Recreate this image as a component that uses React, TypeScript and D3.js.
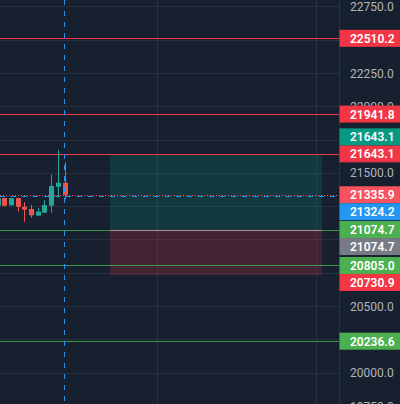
import React from "react";
import * as d3 from "d3";

// ---- data ----
const barIndex = [0, 1, 2, 3, 4, 5, 6, 7, 8, 9, 10];
const opens = [21253, 21311, 21257, 21311, 21246, 21229, 21179, 21201, 21254, 21396, 21426];
const highs = [21315, 21312, 21312, 21312, 21281, 21259, 21236, 21296, 21487, 21672, 21580];
const lows = [21250, 21247, 21255, 21209, 21134, 21164, 21178, 21200, 21201, 21317, 21302];
const closes = [21311, 21254, 21311, 21246, 21224, 21182, 21209, 21259, 21402, 21426, 21335.9];

const redLines = [22510.2, 21941.8, 21643.1];
const greenLines = [21074.7, 20805.0, 20236.6];
const lastPrice = 21335.9;
const crosshairPrice = 21324.2;
const crosshairBar = 10;
const timeGridBars = [23.8, 47.6];

const positionStartBar = 16.8;
const positionEndBar = 48.5;
const positionTarget = 21643.1;
const positionEntry = 21074.7;
const positionStop = 20730.9;

const priceTicks = d3.range(19750, 23001, 250);

// ---- style ----
const W = 400;
const H = 404;
const PLOT_R = 339;
const BG = "#17202f";
const GRID = "#253041";
const UP = "#26a69a";
const DOWN = "#ef5350";
const RED = "#f23645";
const GREEN = "#4caf50";
const TEAL = "#089981";
const BLUE = "#2196f3";
const GRAY = "#787b86";
const LAST = "#f7525f";
const LH = 17;
const FONT = "Roboto, 'DejaVu Sans', sans-serif";

const fmt = d3.format(".1f");

export default function App() {
  const x = d3.scaleLinear().domain([0, 10]).range([-2.4, 64.5]);
  const y = d3.scaleLinear().domain([20000, 22750]).range([372.7, 6.4]);

  // price labels: primaries at true position, secondaries nudged to nearest free slot
  type Lab = { price: number; color: string; y: number };
  const primaries: Lab[] = [
    ...redLines.map((p) => ({ price: p, color: RED, y: y(p) })),
    ...greenLines.map((p) => ({ price: p, color: GREEN, y: y(p) })),
    { price: lastPrice, color: LAST, y: y(lastPrice) },
  ];
  const secondaries = [
    { price: positionTarget, color: TEAL },
    { price: crosshairPrice, color: BLUE },
    { price: positionEntry, color: GRAY },
    { price: positionStop, color: RED },
  ];
  const placed: Lab[] = [...primaries];
  for (const s of secondaries) {
    const y0 = y(s.price);
    const cands = [y0, ...placed.flatMap((p) => [p.y - LH, p.y + LH])];
    const valid = cands.filter((c) => placed.every((p) => Math.abs(p.y - c) >= LH - 0.5));
    valid.sort((a, b) => Math.abs(a - y0) - Math.abs(b - y0) || a - b);
    placed.push({ price: s.price, color: s.color, y: valid[0] });
  }

  // hide axis ticks whose text is fully covered by label boxes
  const covered = (py: number) => placed.some((l) => Math.abs(l.y - py) <= LH / 2);
  const visibleTicks = priceTicks.filter((t) => {
    const ty = y(t);
    for (let s = ty - 4; s <= ty + 4; s += 1) if (!covered(s)) return true;
    return false;
  });

  const bodyW = 5;

  return (
    <svg
      width={W}
      height={H}
      style={{ position: "fixed", left: 0, top: 0, display: "block" }}
      fontFamily={FONT}
    >
      <rect x={0} y={0} width={W} height={H} fill={BG} />
      {/* grid */}
      {priceTicks.map((t) => (
        <line key={"g" + t} x1={0} x2={PLOT_R} y1={Math.round(y(t)) + 0.5} y2={Math.round(y(t)) + 0.5} stroke={GRID} strokeWidth={1} />
      ))}
      {timeGridBars.map((b) => (
        <line key={"v" + b} x1={Math.round(x(b)) + 0.5} x2={Math.round(x(b)) + 0.5} y1={0} y2={H} stroke={GRID} strokeWidth={1} />
      ))}

      {/* position box */}
      <rect x={x(positionStartBar)} y={y(positionTarget)} width={x(positionEndBar) - x(positionStartBar)} height={y(positionEntry) - y(positionTarget)} fill={TEAL} fillOpacity={0.2} />
      <rect x={x(positionStartBar)} y={y(positionEntry)} width={x(positionEndBar) - x(positionStartBar)} height={y(positionStop) - y(positionEntry)} fill={RED} fillOpacity={0.2} />

      {/* horizontal lines */}
      {redLines.map((p) => (
        <line key={"r" + p} x1={0} x2={PLOT_R} y1={Math.round(y(p)) + 0.5} y2={Math.round(y(p)) + 0.5} stroke={RED} strokeWidth={1} />
      ))}
      {greenLines.map((p) => (
        <line key={"gl" + p} x1={0} x2={PLOT_R} y1={Math.round(y(p)) + 0.5} y2={Math.round(y(p)) + 0.5} stroke={GREEN} strokeOpacity={0.8} strokeWidth={1} />
      ))}
      <line x1={x(positionStartBar)} x2={x(positionEndBar)} y1={Math.round(y(positionEntry)) + 0.5} y2={Math.round(y(positionEntry)) + 0.5} stroke="#9598a1" strokeWidth={1} />

      {/* candles */}
      {barIndex.map((i) => {
        const up = closes[i] >= opens[i];
        const c = up ? UP : DOWN;
        const cx = Math.round(x(i)) + 0.5;
        const top = y(Math.max(opens[i], closes[i]));
        const bot = y(Math.min(opens[i], closes[i]));
        return (
          <g key={"c" + i}>
            <line x1={cx} x2={cx} y1={y(highs[i])} y2={y(lows[i])} stroke={c} strokeWidth={1} />
            <rect x={cx - bodyW / 2} y={top} width={bodyW} height={Math.max(1, bot - top)} fill={c} />
          </g>
        );
      })}

      {/* last price + crosshair */}
      <line x1={0} x2={PLOT_R} y1={Math.round(y(lastPrice)) + 0.5} y2={Math.round(y(lastPrice)) + 0.5} stroke={LAST} strokeWidth={1} strokeDasharray="1 2" />
      <line x1={0} x2={PLOT_R} y1={Math.round(y(crosshairPrice)) + 0.5} y2={Math.round(y(crosshairPrice)) + 0.5} stroke={BLUE} strokeWidth={1} strokeDasharray="5 6" />
      <line x1={Math.floor(x(crosshairBar)) + 0.5} x2={Math.floor(x(crosshairBar)) + 0.5} y1={0} y2={H} stroke={BLUE} strokeWidth={1} strokeDasharray="5 6" />

      {/* price axis */}
      <rect x={PLOT_R} y={0} width={W - PLOT_R} height={H} fill={BG} />
      <line x1={PLOT_R + 0.5} x2={PLOT_R + 0.5} y1={0} y2={H} stroke={GRID} strokeWidth={1} />
      {visibleTicks.map((t) => (
        <text key={"t" + t} x={350} y={y(t) + 4.5} fontSize={12} fill="#b2b5be">
          {fmt(t)}
        </text>
      ))}
      {placed.map((l, k) => (
        <g key={"l" + k}>
          <rect x={PLOT_R + 0.5} y={l.y - LH / 2} width={W - PLOT_R} height={LH} fill={l.color} />
          <text x={350} y={l.y + 4.5} fontSize={12} fontWeight={600} fill="#ffffff">
            {fmt(l.price)}
          </text>
        </g>
      ))}
    </svg>
  );
}
